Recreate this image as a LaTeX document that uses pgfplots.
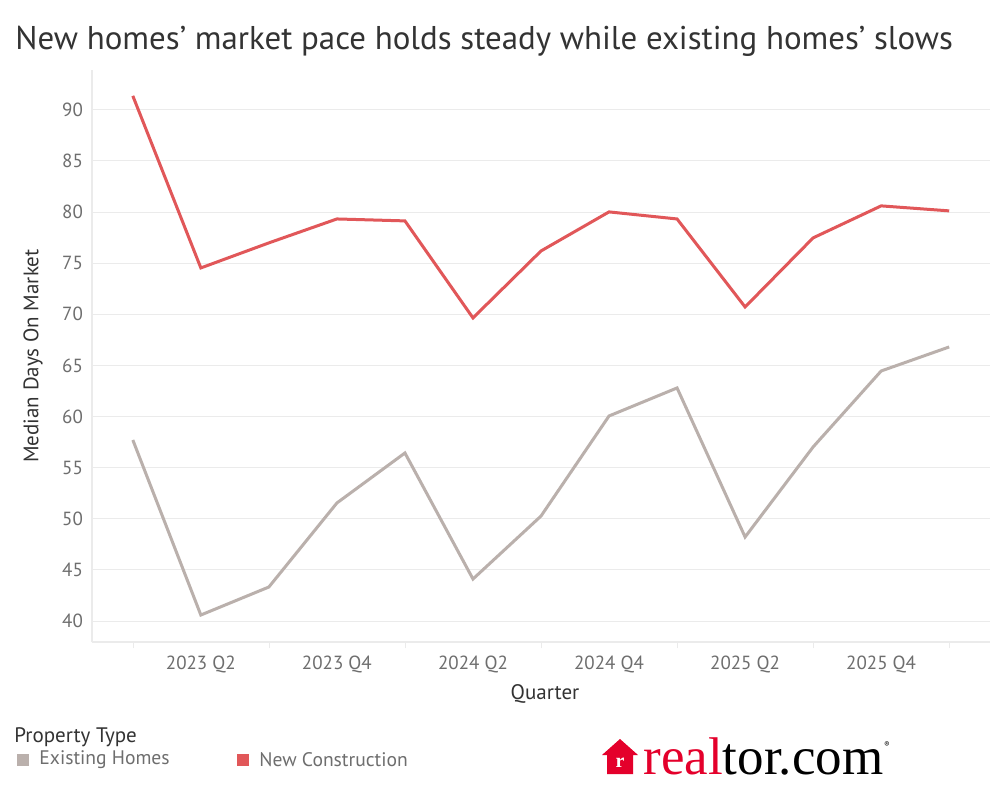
\documentclass[border=0pt]{standalone}
\usepackage{pgfplots}
\pgfplotsset{compat=1.18}
\usepackage{fontspec}
\setmainfont{PT Sans}
\newfontfamily\logofont{Liberation Serif}
\definecolor{newc}{HTML}{E15759}
\definecolor{exist}{HTML}{BAB0AC}
\definecolor{gridc}{HTML}{EBEBEB}
\definecolor{tickc}{HTML}{6E6E6E}
\definecolor{titlec}{HTML}{333333}
\definecolor{logored}{HTML}{E4002B}
\begin{document}
\begin{tikzpicture}[x=1pt,y=1pt]
\path[fill=white] (0,0) rectangle (500,400);
\begin{axis}[
  at={(46pt,79pt)}, anchor=south west,
  scale only axis, width=449pt, height=286pt,
  xmin=-0.6, xmax=12.6, ymin=37.95, ymax=93.9,
  axis x line*=bottom, axis y line*=left,
  axis line style={draw=gridc, line width=0.6pt},
  xtick={1,3,5,7,9,11},
  xticklabels={2023 Q2,2023 Q4,2024 Q2,2024 Q4,2025 Q2,2025 Q4},
  minor xtick={0,2,4,6,8,10,12},
  ytick={40,45,...,90},
  tick align=outside,
  major tick length=0pt, minor tick length=3pt,
  minor tick style={draw=gridc},
  ymajorgrids, grid style={draw=gridc, line width=0.5pt},
  ytick style={draw=none},
  tick label style={font=\fontsize{9.5}{11}\selectfont, text=tickc},
  /pgf/number format/assume math mode=true,
  xticklabel style={yshift=-3.5pt},
  yticklabel style={xshift=-1pt},
  clip=false,
]
\addplot[exist, line width=1.5pt] coordinates {
(0,57.71) (1,40.59) (2,43.33) (3,51.55) (4,56.44) (5,44.11) (6,50.27)
(7,60.06) (8,62.8) (9,48.22) (10,57.03) (11,64.46) (12,66.81)};
\addplot[newc, line width=1.5pt] coordinates {
(0,91.37) (1,74.54) (2,76.99) (3,79.33) (4,79.14) (5,69.65) (6,76.2)
(7,80.02) (8,79.33) (9,70.72) (10,77.48) (11,80.61) (12,80.12)};
\end{axis}
% title
\node[anchor=west, inner sep=0pt, text=titlec, font=\fontsize{16.45}{19}\selectfont] at (7.5,379.5) {New homes’ market pace holds steady while existing homes’ slows};
% axis titles
\node[text=titlec, font=\fontsize{10.5}{12}\selectfont] at (272.5,53) {Quarter};
\node[text=titlec, font=\fontsize{10.5}{12}\selectfont, rotate=90] at (16.5,222) {Median Days On Market};
% legend
\node[anchor=west, inner sep=0pt, text=titlec, font=\fontsize{10.5}{12}\selectfont] at (7,31.5) {Property Type};
\fill[exist] (8.5,17) rectangle (14.5,23);
\node[anchor=west, inner sep=0pt, text=tickc, font=\fontsize{9.8}{11}\selectfont] at (19.5,20) {Existing Homes};
\fill[newc] (118.5,17) rectangle (124.5,23);
\node[anchor=west, inner sep=0pt, text=tickc, font=\fontsize{9.8}{11}\selectfont] at (129.5,20) {New Construction};
% logo
\fill[logored] (303.5,13) -- (303.5,22.5) -- (301,22.5) -- (310,30.5) -- (319,22.5) -- (316.5,22.5) -- (316.5,13) -- cycle;
\node[text=white, font=\logofont\bfseries\fontsize{10}{10}\selectfont] at (310,18.5) {r};
\node[anchor=base west, inner sep=0pt, font=\logofont\fontsize{26.5}{26.5}\selectfont] at (321.5,13) {\textcolor{logored}{real}\textcolor{black}{tor.com}};
\node[inner sep=0pt, font=\fontsize{4}{4}\selectfont] at (443.5,27.5) {®};
\end{tikzpicture}
\end{document}
